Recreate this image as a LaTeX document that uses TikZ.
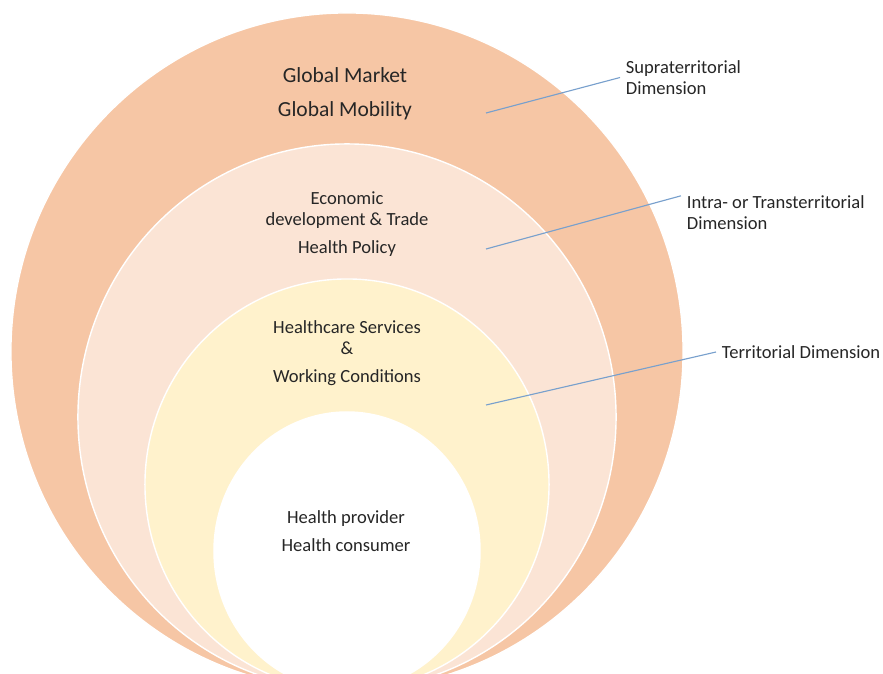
\documentclass[tikz,border=0pt]{standalone}
\usepackage{fontspec}
\setmainfont{Carlito}
\usepackage{tikz}
\usetikzlibrary{shapes}

\definecolor{outerband}{RGB}{246,198,165}
\definecolor{midband}{RGB}{251,228,213}
\definecolor{innerband}{RGB}{255,242,204}
\definecolor{pointerblue}{RGB}{120,160,205}

\begin{document}
\begin{tikzpicture}[x=0.025cm,y=-0.025cm]
	\tikzstyle{band}=[ellipse,draw=white,line width=1pt,inner sep=0pt]
	\tikzstyle{bandtext}=[align=center,text=black!85,
	font=\fontsize{13.2}{14.9}\selectfont]
	\tikzstyle{dimlabel}=[anchor=west,align=left,inner sep=4pt,text=black!85,
	font=\fontsize{13.2}{14.9}\selectfont]

	\useasboundingbox (0,0) rectangle (883,673);
	\clip (0,0) rectangle (883,673);

	\node[band,fill=outerband,minimum width=16.8cm,minimum height=16.925cm]
	(supraband) at (347,351.5) {};
	\node[band,fill=midband,minimum width=13.45cm,minimum height=13.65cm]
	(transband) at (347,417) {};
	\node[band,fill=innerband,minimum width=10.1cm,minimum height=10.275cm]
	(terrband) at (347,484.5) {};
	\node[band,fill=white,minimum width=6.65cm,minimum height=6.95cm]
	(coreband) at (347,551) {};

	\node[bandtext,font=\fontsize{15.3}{18.4}\selectfont] (market) at (345,94)
	{Global Market\\[5.8pt]Global Mobility};
	\node[bandtext] (trade) at (347,224) {Economic\\development \& Trade\\[5pt]Health
	Policy};
	\node[bandtext] (services) at (347,353.5) {Healthcare Services\\\&\\[5pt]Working
	Conditions};
	\node[bandtext] (actors) at (346,531) {Health provider\\[5pt]Health consumer};

	\node[dimlabel] (supra) at (620,77.5) {Supraterritorial\\Dimension};
	\node[dimlabel] (intra) at (681,212.5) {Intra- or Transterritorial\\Dimension};
	\node[dimlabel] (terr) at (716,352) {Territorial Dimension};

	\coordinate (supra-pt) at (486,113);
	\coordinate (intra-pt) at (486,249);
	\coordinate (terr-pt) at (486,405);

	\tikzstyle{pointer}=[draw=pointerblue,line width=0.8pt]

	\draw[pointer] (supra-pt) -- (supra.west);
	\draw[pointer] (intra-pt) -- (intra.170);
	\draw[pointer] (terr-pt) -- (terr.west);
\end{tikzpicture}
\end{document}
